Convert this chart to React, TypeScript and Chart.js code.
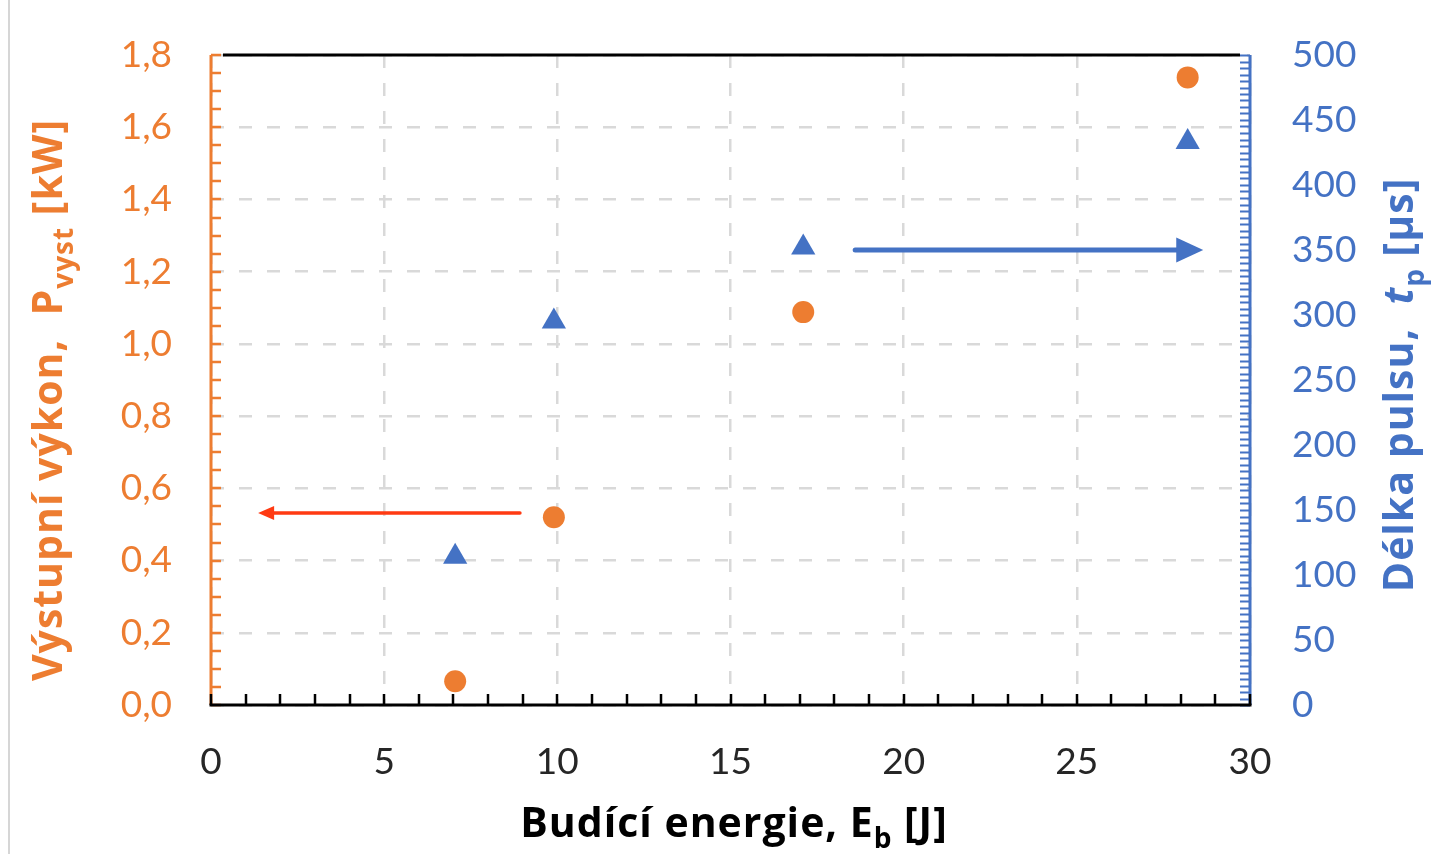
import React, { useEffect, useRef } from 'react';
import { Chart, registerables } from 'chart.js';

Chart.register(...registerables);

// ---- data ----
const energyJ = [7.05, 9.9, 17.1, 28.2];
const powerKW = [0.066, 0.52, 1.088, 1.738];
const pulseUs = [114, 295, 352, 433];

const xTickValues = [0, 5, 10, 15, 20, 25, 30];
const powerTickValues = [0, 0.2, 0.4, 0.6, 0.8, 1.0, 1.2, 1.4, 1.6, 1.8];
const pulseTickValues = [0, 50, 100, 150, 200, 250, 300, 350, 400, 450, 500];

// arrows in data coordinates: [x, y]
const powerArrowFrom = [8.92, 0.532];
const powerArrowTo = [1.36, 0.532];
const pulseArrowFrom = [18.6, 350];
const pulseArrowTo = [28.65, 350];

const xMinorStep = 1;
const powerMinorStep = 0.05;
const pulseMinorStep = 5;

const ORANGE = '#ED7D31';
const BLUE = '#4472C4';
const RED = '#FF3A12';
const GRID = '#D9D9D9';
const TICK_FONT = 'Lato';
const TITLE_FONT = '"Open Sans"';

type Part = { t: string; sub?: boolean; italic?: boolean };

function drawRich(ctx: CanvasRenderingContext2D, parts: Part[], x: number, y: number, rot: number, size: number, color: string) {
  ctx.save();
  ctx.translate(x, y);
  ctx.rotate(rot);
  ctx.fillStyle = color;
  ctx.textBaseline = 'alphabetic';
  ctx.textAlign = 'left';
  (ctx as any).letterSpacing = '1px';
  const fontOf = (p: Part) => `${p.italic ? 'italic ' : ''}bold ${p.sub ? Math.round(size * 0.68) : size}px ${TITLE_FONT}`;
  let total = 0;
  const widths = parts.map((p) => {
    ctx.font = fontOf(p);
    const w = ctx.measureText(p.t).width;
    total += w;
    return w;
  });
  let cx = -total / 2;
  parts.forEach((p, i) => {
    ctx.font = fontOf(p);
    ctx.fillText(p.t, cx, p.sub ? size * 0.28 : 0);
    cx += widths[i];
  });
  ctx.restore();
}

function arrow(ctx: CanvasRenderingContext2D, x1: number, y1: number, x2: number, y2: number, color: string, lw: number, headLen: number, headHalf: number) {
  const dir = Math.sign(x2 - x1);
  ctx.save();
  ctx.strokeStyle = color;
  ctx.fillStyle = color;
  ctx.lineWidth = lw;
  ctx.lineCap = 'round';
  ctx.beginPath();
  ctx.moveTo(x1, y1);
  ctx.lineTo(x2 - dir * headLen * 0.8, y2);
  ctx.stroke();
  ctx.beginPath();
  ctx.moveTo(x2, y2);
  ctx.lineTo(x2 - dir * headLen, y2 - headHalf);
  ctx.lineTo(x2 - dir * headLen, y2 + headHalf);
  ctx.closePath();
  ctx.fill();
  ctx.restore();
}

const framePlugin = {
  id: 'frame',
  beforeDatasetsDraw(chart: any) {
    const { ctx, chartArea: a, scales } = chart;
    const sx = scales.x, sl = scales.y, sr = scales.y2;
    ctx.save();
    ctx.lineCap = 'butt';
    // left axis (orange)
    ctx.strokeStyle = ORANGE;
    ctx.lineWidth = 2.5;
    ctx.beginPath();
    for (let i = 0; i * powerMinorStep <= 1.8 + 1e-9; i++) {
      const y = Math.round(sl.getPixelForValue(i * powerMinorStep));
      ctx.moveTo(a.left, y);
      ctx.lineTo(a.left + 10, y);
    }
    ctx.stroke();
    ctx.lineWidth = 3;
    ctx.beginPath();
    ctx.moveTo(a.left, a.top);
    ctx.lineTo(a.left, a.bottom);
    ctx.stroke();
    // right axis (blue)
    ctx.strokeStyle = BLUE;
    ctx.lineWidth = 2;
    ctx.beginPath();
    for (let i = 0; i * pulseMinorStep <= 500 + 1e-9; i++) {
      const y = Math.round(sr.getPixelForValue(i * pulseMinorStep)) + 0.5;
      ctx.moveTo(a.right, y);
      ctx.lineTo(a.right - 10, y);
    }
    ctx.stroke();
    ctx.lineWidth = 3;
    ctx.beginPath();
    ctx.moveTo(a.right, a.top);
    ctx.lineTo(a.right, a.bottom);
    ctx.stroke();
    // top border
    ctx.strokeStyle = '#000';
    ctx.lineWidth = 3;
    ctx.beginPath();
    ctx.moveTo(a.left + 12, a.top);
    ctx.lineTo(a.right - 10, a.top);
    ctx.stroke();
    // bottom axis
    ctx.lineWidth = 2.5;
    ctx.beginPath();
    for (let i = 0; i * xMinorStep <= 30 + 1e-9; i++) {
      const x = Math.round(sx.getPixelForValue(i * xMinorStep));
      ctx.moveTo(x, a.bottom);
      ctx.lineTo(x, a.bottom - 11);
    }
    ctx.stroke();
    ctx.lineWidth = 3;
    ctx.beginPath();
    ctx.moveTo(a.left - 1.5, a.bottom);
    ctx.lineTo(a.right + 1.5, a.bottom);
    ctx.stroke();
    ctx.restore();
  },
  afterDatasetsDraw(chart: any) {
    const { ctx, scales } = chart;
    const sx = scales.x, sl = scales.y, sr = scales.y2;
    arrow(ctx, sx.getPixelForValue(powerArrowFrom[0]), sl.getPixelForValue(powerArrowFrom[1]),
      sx.getPixelForValue(powerArrowTo[0]), sl.getPixelForValue(powerArrowTo[1]), RED, 3.5, 16, 7);
    arrow(ctx, sx.getPixelForValue(pulseArrowFrom[0]), sr.getPixelForValue(pulseArrowFrom[1]),
      sx.getPixelForValue(pulseArrowTo[0]), sr.getPixelForValue(pulseArrowTo[1]), BLUE, 5, 27, 12.5);
  },
  afterDraw(chart: any) {
    const { ctx } = chart;
    drawRich(ctx, [{ t: 'Budící energie, E' }, { t: 'b', sub: true }, { t: ' [J]' }],
      734, 837, 0, 41, '#000');
    drawRich(ctx, [{ t: 'Výstupní výkon,  P' }, { t: 'vyst', sub: true }, { t: ' [kW]' }],
      62, 400, -Math.PI / 2, 41, ORANGE);
    drawRich(ctx, [{ t: 'Délka pulsu,  ' }, { t: 't', italic: true }, { t: 'p', sub: true }, { t: ' [µs]' }],
      1413, 385, -Math.PI / 2, 41, BLUE);
  },
};

const fmtComma = (v: number) => v.toFixed(1).replace('.', ',');
const noPad = (s: any) => { s.paddingTop = 0; s.paddingBottom = 0; s.paddingLeft = 0; s.paddingRight = 0; };

export default function App() {
  const ref = useRef<HTMLCanvasElement>(null);
  useEffect(() => {
    if (!ref.current) return;
    const chart = new Chart(ref.current, {
      type: 'scatter',
      data: {
        datasets: [
          {
            label: 'Výstupní výkon',
            data: energyJ.map((x, i) => ({ x, y: powerKW[i] })),
            yAxisID: 'y',
            pointStyle: 'circle',
            pointRadius: 11,
            pointHoverRadius: 11,
            backgroundColor: ORANGE,
            borderColor: ORANGE,
            borderWidth: 0,
          },
          {
            label: 'Délka pulsu',
            data: energyJ.map((x, i) => ({ x, y: pulseUs[i] })),
            yAxisID: 'y2',
            pointStyle: 'triangle',
            pointRadius: 14,
            pointHoverRadius: 14,
            backgroundColor: BLUE,
            borderColor: BLUE,
            borderWidth: 0,
          },
        ],
      },
      options: {
        animation: false,
        responsive: true,
        maintainAspectRatio: false,
        layout: { padding: { top: 55, left: 0, right: 0, bottom: 0 } },
        plugins: { legend: { display: false }, tooltip: { enabled: false }, title: { display: false } },
        scales: {
          x: {
            type: 'linear',
            min: 0,
            max: 30,
            afterBuildTicks: (s: any) => { s.ticks = xTickValues.map((v) => ({ value: v })); },
            afterFit: (s: any) => { s.height = 149; noPad(s); },
            grid: { color: GRID, lineWidth: 2.5, drawTicks: false },
            border: { display: false, dash: [13, 15] },
            ticks: { color: '#262626', padding: 35, font: { family: TICK_FONT, size: 37 }, maxRotation: 0, autoSkip: false },
          },
          y: {
            type: 'linear',
            position: 'left',
            min: 0,
            max: 1.8,
            afterBuildTicks: (s: any) => { s.ticks = powerTickValues.map((v) => ({ value: v })); },
            afterFit: (s: any) => { s.width = 211; noPad(s); },
            grid: { color: GRID, lineWidth: 2.5, drawTicks: false },
            border: { display: false, dash: [13, 15] },
            ticks: { color: ORANGE, padding: 39, font: { family: TICK_FONT, size: 37 }, callback: (v: any) => fmtComma(Number(v)), autoSkip: false },
          },
          y2: {
            type: 'linear',
            position: 'right',
            min: 0,
            max: 500,
            afterBuildTicks: (s: any) => { s.ticks = pulseTickValues.map((v) => ({ value: v })); },
            afterFit: (s: any) => { s.width = 187; noPad(s); },
            grid: { display: false, drawTicks: false },
            border: { display: false },
            ticks: { color: BLUE, padding: 42, font: { family: TICK_FONT, size: 37 }, autoSkip: false },
          },
        },
      } as any,
      plugins: [framePlugin],
    });
    return () => chart.destroy();
  }, []);

  return (
    <div style={{ position: 'fixed', left: 0, top: 0, width: 1437, height: 854, background: '#fff' }}>
      <div style={{ position: 'absolute', left: 8, top: 0, width: 2, height: 854, background: '#D6D6D6' }} />
      <div style={{ position: 'absolute', left: 0, top: 0, width: 1437, height: 854 }}>
        <canvas ref={ref} />
      </div>
    </div>
  );
}
